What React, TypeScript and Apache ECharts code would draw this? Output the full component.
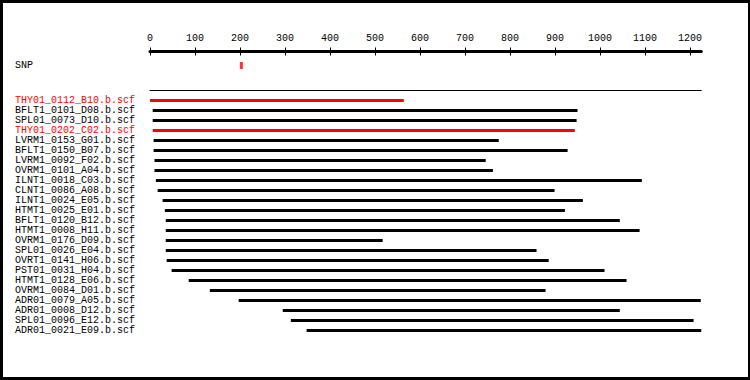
import React, { useEffect, useRef } from "react";
import * as echarts from "echarts";

const reads = [
  "THY01_0112_B10.b.scf",
  "BFLT1_0101_D08.b.scf",
  "SPL01_0073_D10.b.scf",
  "THY01_0202_C02.b.scf",
  "LVRM1_0153_G01.b.scf",
  "BFLT1_0150_B07.b.scf",
  "LVRM1_0092_F02.b.scf",
  "OVRM1_0101_A04.b.scf",
  "ILNT1_0018_C03.b.scf",
  "CLNT1_0086_A08.b.scf",
  "ILNT1_0024_E05.b.scf",
  "HTMT1_0025_E01.b.scf",
  "BFLT1_0120_B12.b.scf",
  "HTMT1_0008_H11.b.scf",
  "OVRM1_0176_D09.b.scf",
  "SPL01_0026_E04.b.scf",
  "OVRT1_0141_H06.b.scf",
  "PST01_0031_H04.b.scf",
  "HTMT1_0128_E06.b.scf",
  "OVRM1_0084_D01.b.scf",
  "ADR01_0079_A05.b.scf",
  "ADR01_0008_D12.b.scf",
  "SPL01_0096_E12.b.scf",
  "ADR01_0021_E09.b.scf",
];

const readStarts = [0, 6, 6, 6, 8, 8, 10, 10, 13, 17, 28, 33, 35, 35, 35, 35, 37, 48, 86, 133, 197, 295, 313, 348];
const readEnds = [564, 950, 948, 944, 775, 928, 746, 762, 1093, 899, 962, 922, 1044, 1088, 517, 859, 886, 1010, 1059, 879, 1224, 1044, 1208, 1225];

const redReads = ["THY01_0112_B10.b.scf", "THY01_0202_C02.b.scf"];

const snpLabel = ["SNP"];
const snpPositions = [203];

const tickValues = [0, 100, 200, 300, 400, 500, 600, 700, 800, 900, 1000, 1100, 1200];
const axisMin = 0;
const axisMax = 1225;

const FONT = "'Liberation Mono', 'DejaVu Sans Mono', monospace";

export default function App() {
  const ref = useRef<HTMLDivElement>(null);

  useEffect(() => {
    document.body.style.margin = "0";
    if (!ref.current) return;
    const chart = echarts.init(ref.current, null, { renderer: "svg" });

    const labelBase = {
      fontFamily: FONT,
      fontSize: 10,
      color: "#000",
    };

    const option: any = {
      animation: false,
      backgroundColor: "#fff",
      grid: [
        { left: 150, top: 61, width: 551.25, height: 9, containLabel: false },
        { left: 150, top: 95.5, width: 551.25, height: 240, containLabel: false },
      ],
      xAxis: [
        {
          gridIndex: 0,
          type: "value",
          position: "top",
          offset: 9.5,
          min: axisMin,
          max: axisMax,
          axisLine: { show: true, lineStyle: { color: "#000", width: 3 } },
          axisTick: {
            show: true,
            inside: false,
            length: 4,
            customValues: tickValues,
            lineStyle: { color: "#000", width: 1 },
          },
          axisLabel: {
            ...labelBase,
            customValues: tickValues,
            margin: 8,
            formatter: (v: number) => String(v),
          },
          splitLine: { show: false },
        },
        {
          gridIndex: 0,
          type: "value",
          position: "top",
          offset: 9.5,
          min: axisMin,
          max: axisMax,
          axisLine: { show: false },
          axisTick: {
            show: true,
            inside: true,
            length: 4,
            customValues: tickValues,
            lineStyle: { color: "#000", width: 1 },
          },
          axisLabel: { show: false },
          splitLine: { show: false },
        },
        {
          gridIndex: 1,
          type: "value",
          position: "top",
          offset: 5,
          min: axisMin,
          max: axisMax,
          axisLine: { show: true, lineStyle: { color: "#000", width: 1 } },
          axisTick: { show: false },
          axisLabel: { show: false },
          splitLine: { show: false },
        },
      ],
      yAxis: [
        {
          gridIndex: 0,
          type: "category",
          data: snpLabel,
          inverse: true,
          axisLine: { show: false },
          axisTick: { show: false },
          axisLabel: { ...labelBase, align: "left", margin: 135 },
          splitLine: { show: false },
        },
        {
          gridIndex: 1,
          type: "category",
          data: reads,
          inverse: true,
          axisLine: { show: false },
          axisTick: { show: false },
          axisLabel: {
            ...labelBase,
            align: "left",
            margin: 135,
            interval: 0,
            hideOverlap: false,
            color: (v: string) => (redReads.includes(v) ? "#ff0000" : "#000"),
          },
          splitLine: { show: false },
        },
      ],
      series: [
        {
          type: "scatter",
          xAxisIndex: 0,
          yAxisIndex: 0,
          symbol: "rect",
          symbolSize: [3, 7],
          itemStyle: { color: "#ff0000" },
          data: snpPositions.map((p) => [p, snpLabel[0]]),
          silent: true,
        },
        {
          type: "bar",
          xAxisIndex: 2,
          yAxisIndex: 1,
          stack: "reads",
          barWidth: 3,
          itemStyle: { color: "rgba(0,0,0,0)" },
          data: readStarts,
          silent: true,
        },
        {
          type: "bar",
          xAxisIndex: 2,
          yAxisIndex: 1,
          stack: "reads",
          barWidth: 3,
          data: readEnds.map((e, i) => ({
            value: e - readStarts[i],
            itemStyle: { color: redReads.includes(reads[i]) ? "#ff0000" : "#000" },
          })),
          silent: true,
        },
      ],
    };

    chart.setOption(option);
    return () => chart.dispose();
  }, []);

  return (
    <div style={{ position: "relative", width: 750, height: 380, background: "#fff" }}>
      <div ref={ref} style={{ position: "absolute", left: 0, top: 0, width: 750, height: 380 }} />
      <div
        style={{
          position: "absolute",
          left: 0,
          top: 0,
          width: 750,
          height: 380,
          boxSizing: "border-box",
          borderStyle: "solid",
          borderColor: "#000",
          borderWidth: "3px 2px 3px 3px",
          pointerEvents: "none",
        }}
      />
    </div>
  );
}
